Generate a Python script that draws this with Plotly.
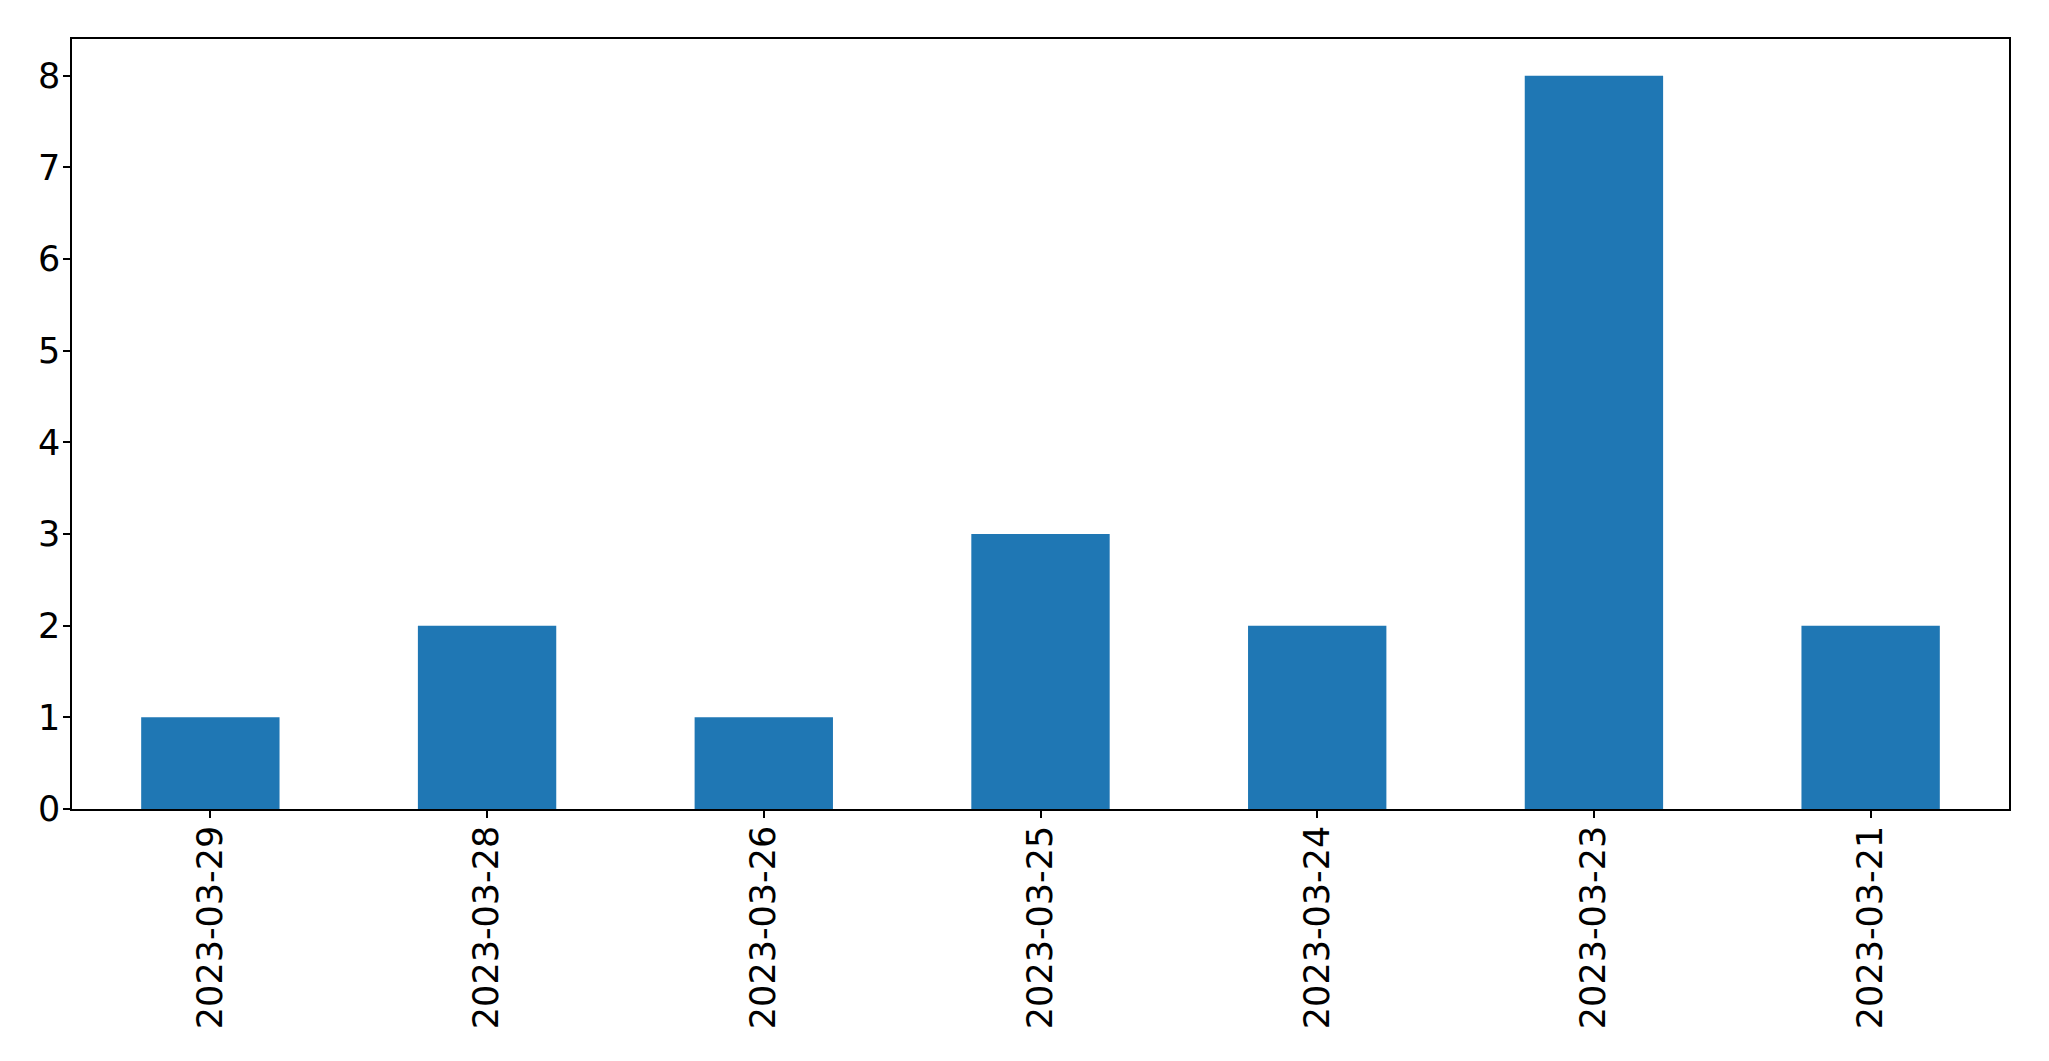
import plotly.graph_objects as go

dates = ["2023-03-29", "2023-03-28", "2023-03-26", "2023-03-25", "2023-03-24", "2023-03-23", "2023-03-21"]
counts = [1, 2, 1, 3, 2, 8, 2]
y_ticks = [0, 1, 2, 3, 4, 5, 6, 7, 8]

fig = go.Figure(go.Bar(x=dates, y=counts, marker=dict(color="#1f77b4", line=dict(width=0)), width=0.5))

fig.update_layout(
    width=2033, height=1045,
    margin=dict(l=64, r=32, t=31, b=244),
    plot_bgcolor="white", paper_bgcolor="white",
    font=dict(family="DejaVu Sans", size=35, color="black"),
    showlegend=False,
)
fig.update_xaxes(
    type="category", range=[-0.5, 6.5], tickangle=-90,
    showline=True, linecolor="black", linewidth=1.5, mirror=True,
    ticks="outside", ticklen=7, tickwidth=1.5, tickcolor="black",
    ticklabelstandoff=-6,
    showgrid=False, zeroline=False,
)
fig.update_yaxes(
    range=[0, 8.4], tickvals=y_ticks,
    showline=True, linecolor="black", linewidth=1.5, mirror=True,
    ticks="outside", ticklen=7, tickwidth=1.5, tickcolor="black",
    ticklabelstandoff=-4,
    showgrid=False, zeroline=False,
)
fig.write_html("out.html")
